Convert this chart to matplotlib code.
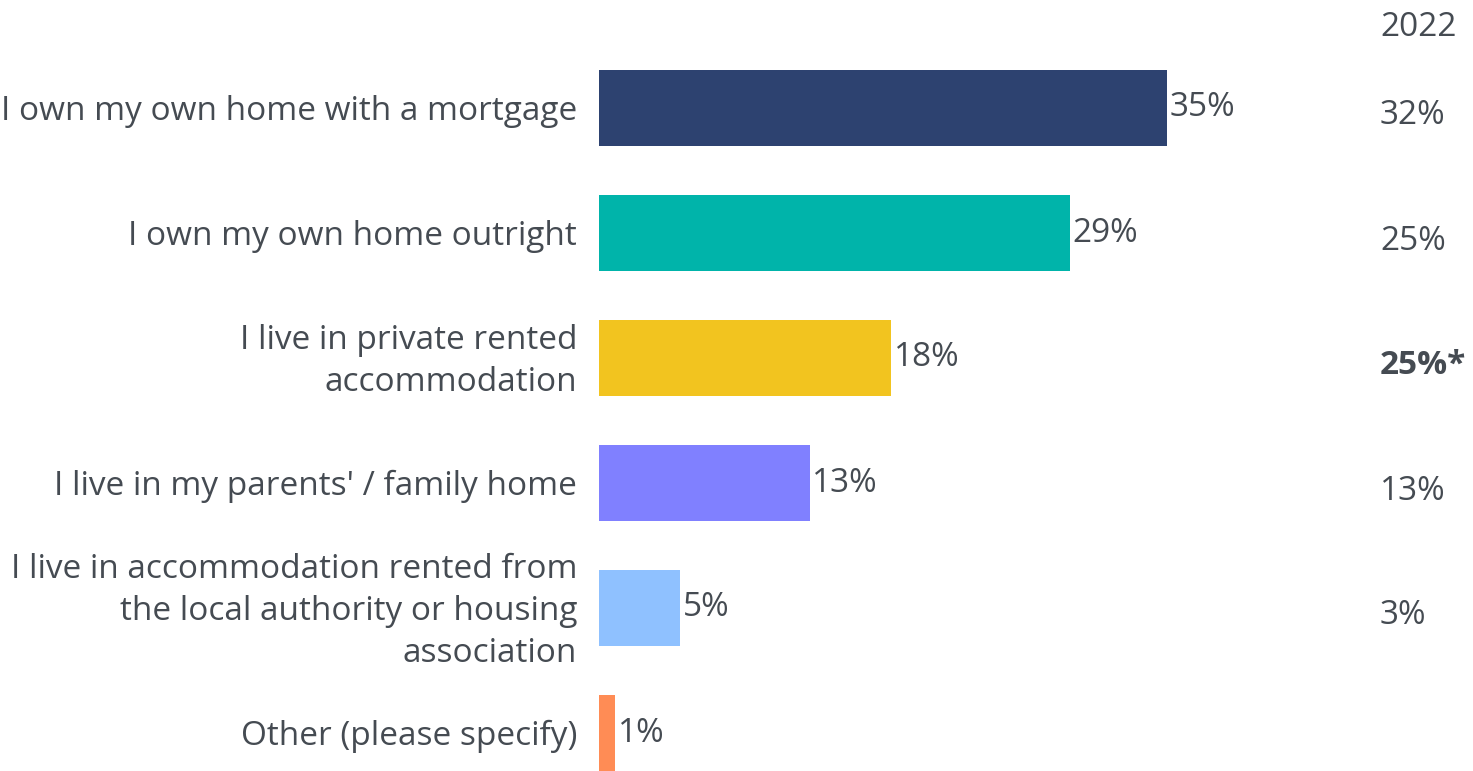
import matplotlib.pyplot as plt

plt.rcParams['font.family'] = ['Open Sans', 'DejaVu Sans']

categories = ["I own my own home with a mortgage",
              "I own my own home outright",
              "I live in private rented\naccommodation",
              "I live in my parents' / family home",
              "I live in accommodation rented from\nthe local authority or housing\nassociation",
              "Other (please specify)"]
values = [35, 29, 18, 13, 5, 1]
values_2022 = ["32%", "25%", "25%", "13%", "3%", ""]
bold_2022 = [False, False, True, False, False, False]
colors = ['#2d4270', '#00b4aa', '#f2c41f', '#8080ff', '#8fc1ff', '#ff8c55']
txt = '#454b52'

W, H = 1473, 771
fig = plt.figure(figsize=(W / 100, H / 100), dpi=100)
# axes: x 0 -> 599px, 35 -> 1167px ; row 0 at y=108px, row 5 at y=733px
x0, x35 = 599, 1167
top, bot = 108 - 62.5, 733 + 62.5
ax = fig.add_axes([x0 / W, (H - bot) / H, (x35 - x0) / W, (bot - top) / H])
ax.set_xlim(0, 35)
ax.set_ylim(len(values) - 0.5, -0.5)
ax.axis('off')

ypos = list(range(len(values)))
ax.barh(ypos, values, height=0.61, color=colors, clip_on=False)

for y, v in zip(ypos, values):
    ax.text(v + 0.15, y, f"{v}%", va='center', ha='left',
            fontsize=24, color=txt)

# category labels
for y, c in zip(ypos, categories):
    ax.text(-1.35, y + 0.025, c, va='center', ha='right', fontsize=24,
            color=txt, linespacing=1.36)

# 2022 column
xr = 1380 / W
fig.text(xr, (H - 27) / H, "2022", va='center', ha='left', fontsize=24, color=txt)
for y, s, b in zip(ypos, values_2022, bold_2022):
    yy = (H - (108 + 125 * y + 8)) / H
    if b:
        fig.text(xr, yy, s + "*", va='center', ha='left', fontsize=24,
                 color=txt, fontweight='bold')
    elif s:
        fig.text(xr, yy, s, va='center', ha='left', fontsize=24, color=txt)

fig.savefig('out.png', dpi=100)
